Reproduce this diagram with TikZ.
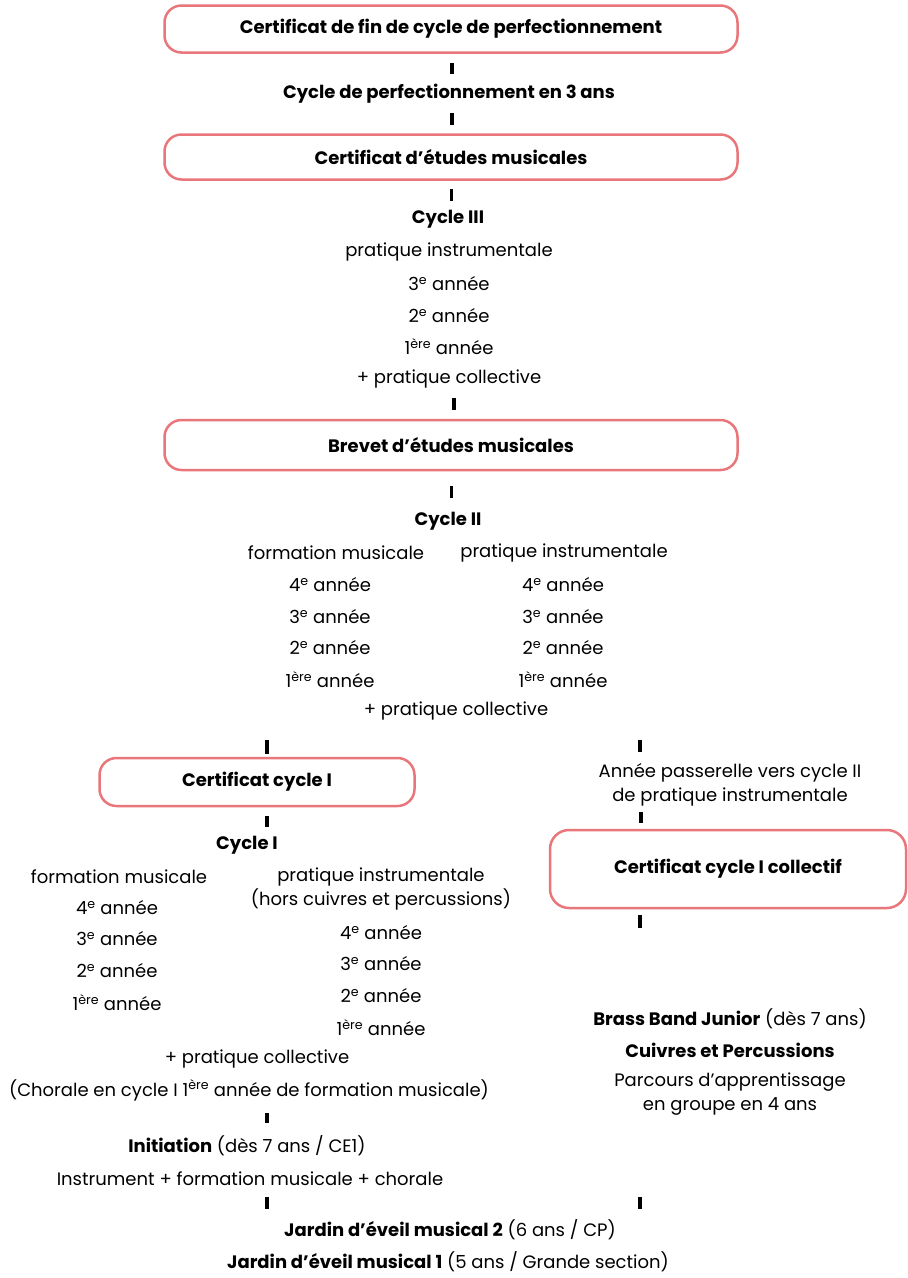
\documentclass[tikz,border=0pt]{standalone}
\usepackage{fontspec}
\setmainfont{Poppins}
\usetikzlibrary{calc}
\definecolor{certpink}{RGB}{232,118,122}
\tikzset{
  base/.style={inner sep=0pt, font=\fontsize{18}{24}\selectfont},
  certbox/.style={base, draw=certpink, line width=2.5pt, rounded corners=17pt, font=\fontsize{18}{24}\selectfont\bfseries},
  txt/.style={base},
  head/.style={base, font=\fontsize{18}{24}\selectfont\bfseries},
  tick/.style={line width=3.5pt},
}
\newcommand{\an}[1]{#1\textsuperscript{e}~année}
\newcommand{\prem}{1\textsuperscript{ère}~année}
\begin{document}
\begin{tikzpicture}[x=1pt, y=-1pt]
  \useasboundingbox (0,0) rectangle (908,1278);

  % Perfectionnement
  \node[certbox, minimum width=573pt, minimum height=47pt] (cfin) at (451,29) {Certificat de fin de cycle de perfectionnement};
  \node[head] (cperf) at (449,94) {Cycle de perfectionnement en 3 ans};
  \node[certbox, minimum width=573pt, minimum height=45pt] (cem) at (451,157) {Certificat d'études musicales};
  \draw[tick] ($(cfin.south)!.5!(cperf.north)$) +(2,-5.5) -- +(2,5.5);
  \draw[tick] ($(cperf.south)!.5!(cem.north)$) +(2,-6) -- +(2,6);

  % Cycle III
  \node[head] (cyc3) at (448,219) {Cycle III};
  \node[txt] (pi3) at (449,252) {pratique instrumentale};
  \node[txt] (a33) at (449,284) {\an{3}};
  \node[txt] (a32) at (449,316) {\an{2}};
  \node[txt] (a31) at (449,347) {\prem};
  \node[txt] (pc3) at (449,379) {+ pratique collective};
  \node[certbox, minimum width=573pt, minimum height=50pt] (bem) at (451,445) {Brevet d'études musicales};
  \draw[tick] ($(cem.south)!.5!(cyc3.north)$) +(2,-6) -- +(2,6);
  \draw[tick] ($(pc3.south)!.5!(bem.north)$) +(4,-6) -- +(4,6);

  % Cycle II
  \node[head] (cyc2) at (448,521) {Cycle II};
  \node[txt] (fm2) at (336,553) {formation musicale};
  \node[txt] (pi2) at (564,553) {pratique instrumentale};
  \foreach \n/\y in {4/585, 3/617, 2/648} {
    \node[txt] (fm2-\n) at (330,\y) {\an{\n}};
    \node[txt] (pi2-\n) at (563,\y) {\an{\n}};
  }
  \node[txt] (fm2-1) at (330,680) {\prem};
  \node[txt] (pi2-1) at (563,680) {\prem};
  \node[txt] (pc2) at (456,711) {+ pratique collective};
  \draw[tick] ($(bem.south)!.5!(cyc2.north)$) +(2,-6) -- +(2,6);

  % Cycle I
  \node[certbox, minimum width=315pt, minimum height=48pt] (cc1) at (257,782) {Certificat cycle I};
  \node[head] (cyc1) at (247,845) {Cycle I};
  \node[txt] (fm1) at (119,877) {formation musicale};
  \node[txt, align=center] (pi1) at (381,889) {pratique instrumentale\\(hors cuivres et percussions)};
  \foreach \n/\y/\z in {4/908/933, 3/939/964, 2/971/996} {
    \node[txt] (fm1-\n) at (117,\y) {\an{\n}};
    \node[txt] (pi1-\n) at (381,\z) {\an{\n}};
  }
  \node[txt] (fm1-1) at (117,1003) {\prem};
  \node[txt] (pi1-1) at (381,1028) {\prem};
  \node[txt] (pc1) at (257,1059) {+ pratique collective};
  \node[txt] (chor) at (249,1090) {(Chorale en cycle I 1\textsuperscript{ère} année de formation musicale)};
  \draw[tick] ($(cc1.north)+(10,-10)$) +(0,-7) -- +(0,7);
  \draw[tick] ($(cc1.south)!.5!(cyc1.north)$) +(15,-5.5) -- +(15,5.5);

  % Passerelle et collectif
  \node[txt, align=center] (pass) at (730,785) {Année passerelle vers cycle II\\de pratique instrumentale};
  \node[certbox, rounded corners=19pt, minimum width=356pt, minimum height=78pt] (cc1c) at (728,869) {Certificat cycle I collectif};
  \node[txt] (brass) at (730,1019) {\textbf{Brass Band Junior} (dès 7 ans)};
  \node[head] (cuiv) at (730,1050) {Cuivres et Percussions};
  \node[txt, align=center] (parc) at (730,1094) {Parcours d'apprentissage\\en groupe en 4 ans};
  \draw[tick] ($(pass.north)+(-90,-17)$) +(0,-6) -- +(0,6);
  \draw[tick] ($(pass.south)!.5!(cc1c.north)$) +(-88,-5.5) -- +(-88,5.5);
  \draw[tick] ($(cc1c.south)+(-88,12)$) +(0,-6.5) -- +(0,6.5);

  % Initiation et jardin
  \node[txt] (init) at (247,1146) {\textbf{Initiation} (dès 7 ans / CE1)};
  \node[txt] (instr) at (250,1179) {Instrument + formation musicale + chorale};
  \node[txt] (jar2) at (450,1230) {\textbf{Jardin d'éveil musical 2} (6 ans / CP)};
  \node[txt] (jar1) at (448,1262) {\textbf{Jardin d'éveil musical 1} (5 ans / Grande section)};
  \coordinate (chormid) at ($(chor.south)!.5!(init.north)$);
  \coordinate (jarmid) at ($(instr.south)!.5!(jar2.north)$);
  \draw[tick] (chormid -| cc1.north) +(10,-5) -- +(10,5);
  \draw[tick] (jarmid -| cc1.north) +(10,-6) -- +(10,6);
  \draw[tick] (jarmid -| cc1c.north) +(-88,-6) -- +(-88,6);
\end{tikzpicture}
\end{document}
